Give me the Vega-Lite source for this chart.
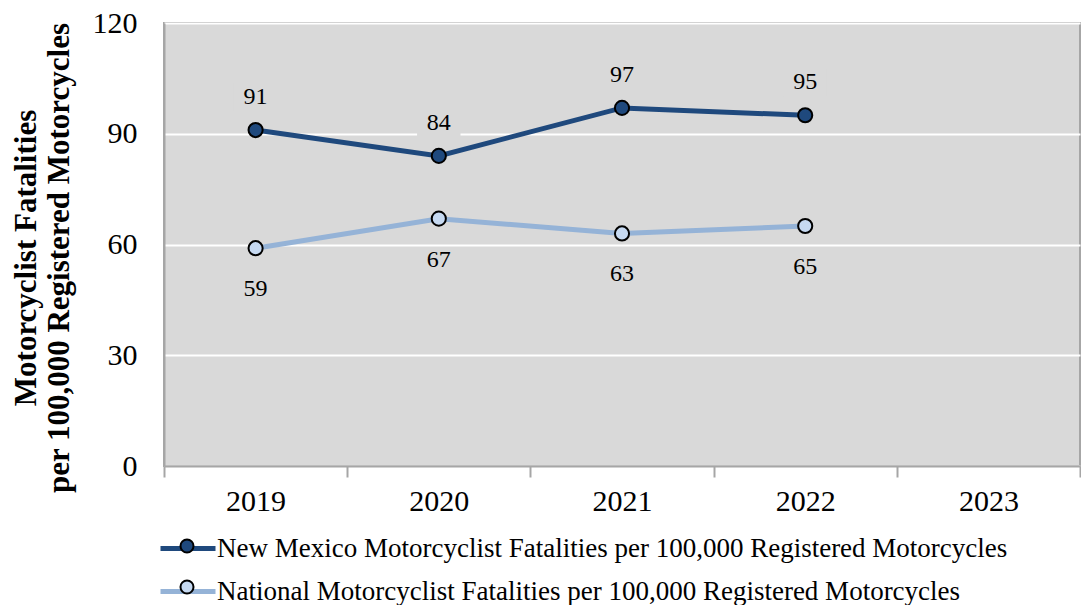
{
  "$schema": "https://vega.github.io/schema/vega-lite/v6.json",
  "width": 916,
  "height": 443,
  "autosize": {"type": "none"},
  "padding": {"left": 164, "top": 23, "right": 1, "bottom": 139},
  "background": "white",
  "config": {
    "font": "Liberation Serif",
    "view": {"fill": "#d9d9d9", "stroke": "#a6a6a6", "strokeWidth": 2}
  },
  "data": {
    "values": [
      {"year": "2019", "series": "New Mexico Motorcyclist Fatalities per 100,000 Registered Motorcycles", "value": 91},
      {"year": "2020", "series": "New Mexico Motorcyclist Fatalities per 100,000 Registered Motorcycles", "value": 84},
      {"year": "2021", "series": "New Mexico Motorcyclist Fatalities per 100,000 Registered Motorcycles", "value": 97},
      {"year": "2022", "series": "New Mexico Motorcyclist Fatalities per 100,000 Registered Motorcycles", "value": 95},
      {"year": "2019", "series": "National Motorcyclist Fatalities per 100,000 Registered Motorcycles", "value": 59},
      {"year": "2020", "series": "National Motorcyclist Fatalities per 100,000 Registered Motorcycles", "value": 67},
      {"year": "2021", "series": "National Motorcyclist Fatalities per 100,000 Registered Motorcycles", "value": 63},
      {"year": "2022", "series": "National Motorcyclist Fatalities per 100,000 Registered Motorcycles", "value": 65}
    ]
  },
  "encoding": {
    "x": {
      "field": "year", "type": "ordinal",
      "scale": {"domain": ["2019", "2020", "2021", "2022", "2023"], "paddingInner": 0, "paddingOuter": 0},
      "axis": {
        "title": null, "labelAngle": 0, "tickBand": "extent", "grid": false,
        "domainColor": "#a6a6a6", "domainWidth": 2, "tickColor": "#a6a6a6", "tickWidth": 2, "tickSize": 11,
        "labelFontSize": 30, "labelColor": "black", "labelPadding": 9
      }
    },
    "y": {
      "field": "value", "type": "quantitative",
      "scale": {"domain": [0, 120]},
      "axis": {
        "title": ["Motorcyclist Fatalities", "per 100,000 Registered Motorcycles"],
        "titleFontSize": 31, "titleFontWeight": "bold", "titleColor": "black", "titleLineHeight": 33, "titlePadding": 17, "titleY": 234.5,
        "values": [0, 30, 60, 90, 120], "ticks": false, "domainColor": "#a6a6a6", "domainWidth": 2,
        "gridColor": "white", "gridWidth": 2, "gridOpacity": 1,
        "labelFontSize": 30, "labelColor": "black", "labelPadding": 27
      }
    }
  },
  "layer": [
    {
      "mark": {"type": "line", "strokeWidth": 5},
      "encoding": {
        "color": {
          "field": "series", "type": "nominal",
          "scale": {
            "domain": ["New Mexico Motorcyclist Fatalities per 100,000 Registered Motorcycles", "National Motorcyclist Fatalities per 100,000 Registered Motorcycles"],
            "range": ["#1f497d", "#95b3d7"]
          },
          "legend": {
            "title": null, "orient": "none", "legendX": -6, "legendY": 495.5,
            "symbolType": "stroke", "symbolSize": 3025, "symbolStrokeWidth": 5,
            "labelFontSize": 27, "labelColor": "black", "labelOffset": -1, "rowPadding": -15, "labelLimit": 1000
          }
        }
      }
    },
    {
      "mark": {"type": "point", "filled": true, "stroke": "black", "strokeWidth": 2, "size": 200, "opacity": 1},
      "encoding": {
        "fill": {
          "field": "series", "type": "nominal",
          "scale": {
            "domain": ["New Mexico Motorcyclist Fatalities per 100,000 Registered Motorcycles", "National Motorcyclist Fatalities per 100,000 Registered Motorcycles", "none"],
            "range": ["#1f497d", "#c6d9f1", "#ffffff"]
          },
          "legend": {
            "values": ["New Mexico Motorcyclist Fatalities per 100,000 Registered Motorcycles", "National Motorcyclist Fatalities per 100,000 Registered Motorcycles"],
            "title": null, "orient": "none", "legendX": 9.5, "legendY": 509.5,
            "symbolType": "circle", "symbolSize": 170, "symbolStrokeColor": "black", "symbolStrokeWidth": 2,
            "labelFontSize": 27, "labelExpr": "''", "rowPadding": 13
          }
        }
      }
    },
    {
      "transform": [{"filter": "datum.value > 75"}],
      "mark": {"type": "point", "shape": "M-1.55,-1L1.55,-1L1.55,1L-1.55,1Z", "size": 784, "filled": true, "fill": "#d9d9d9", "opacity": 1, "strokeWidth": 0, "yOffset": -33}
    },
    {
      "transform": [{"filter": "datum.value > 75"}],
      "mark": {"type": "text", "dy": -33, "fontSize": 24, "color": "black"},
      "encoding": {"text": {"field": "value", "type": "quantitative"}}
    },
    {
      "transform": [{"filter": "datum.value < 75"}],
      "mark": {"type": "text", "dy": 41, "fontSize": 24, "color": "black"},
      "encoding": {"text": {"field": "value", "type": "quantitative"}}
    }
  ]
}
